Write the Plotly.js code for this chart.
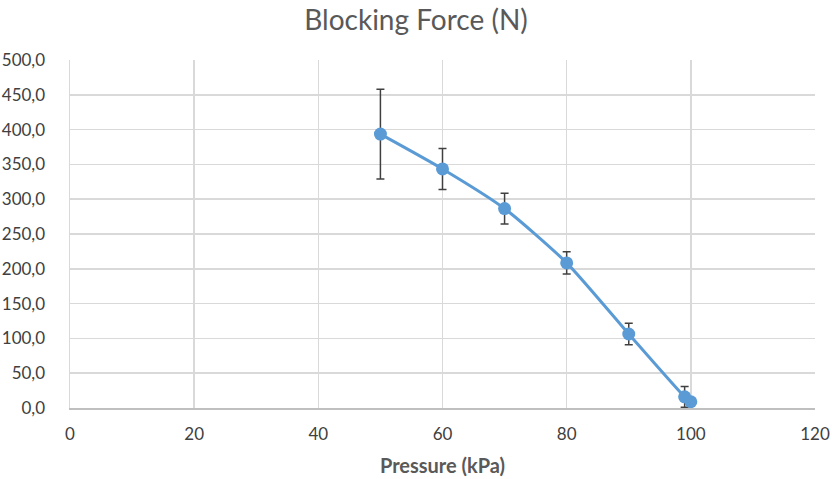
<!DOCTYPE html>
<html>
<head>
<meta charset="utf-8">
<script src="https://cdn.plot.ly/plotly-3.0.1.min.js"></script>
<style>
  html, body { margin: 0; padding: 0; background: #fff; }
  #chart { width: 832px; height: 479px; }
</style>
</head>
<body>
<div id="chart"></div>
<script>
// values
var pressure = [50, 60, 70, 80, 90, 99, 100];
var force = [393.5, 343.5, 286.5, 208.5, 106.3, 16, 9];
var forceErr = [64.5, 29.5, 22, 16, 15.5, 15, 0];

var forceTrace = {
  x: pressure,
  y: force,
  error_y: {
    type: 'data',
    array: forceErr,
    visible: true,
    color: '#404040',
    thickness: 1.5,
    width: 4
  },
  mode: 'lines+markers',
  type: 'scatter',
  line: { color: '#5B9BD5', width: 3, shape: 'spline', smoothing: 0.6 },
  marker: { color: '#5B9BD5', size: 13 },
  showlegend: false
};

var layout = {
  width: 832,
  height: 479,
  separators: ',.',
  margin: { l: 70, r: 17, t: 60, b: 71 },
  paper_bgcolor: '#fff',
  plot_bgcolor: '#fff',
  font: { family: 'Lato, "Open Sans", sans-serif', color: '#404040', size: 17 },
  title: {
    text: 'Blocking Force (N)',
    font: { size: 28, color: '#595959' },
    x: 0.5,
    y: 0.958,
    yanchor: 'middle'
  },
  xaxis: {
    range: [0, 120],
    dtick: 20,
    tick0: 0,
    showgrid: true,
    gridcolor: '#D9D9D9',
    gridwidth: 1.5,
    zeroline: false,
    showline: true,
    linecolor: '#BFBFBF',
    linewidth: 1.5,
    ticks: '',
    ticklabelstandoff: 10,
    title: {
      text: '<b>Pressure (kPa)</b>',
      font: { size: 20, color: '#595959' },
      standoff: 16
    }
  },
  yaxis: {
    range: [0, 500],
    dtick: 50,
    tickformat: '.1f',
    showgrid: true,
    gridcolor: '#D9D9D9',
    gridwidth: 1.5,
    zeroline: false,
    showline: true,
    linecolor: '#D9D9D9',
    linewidth: 1.5,
    ticks: '',
    ticklabelstandoff: 20
  }
};

Plotly.newPlot('chart', [forceTrace], layout, { displayModeBar: false, staticPlot: true });
</script>
</body>
</html>
